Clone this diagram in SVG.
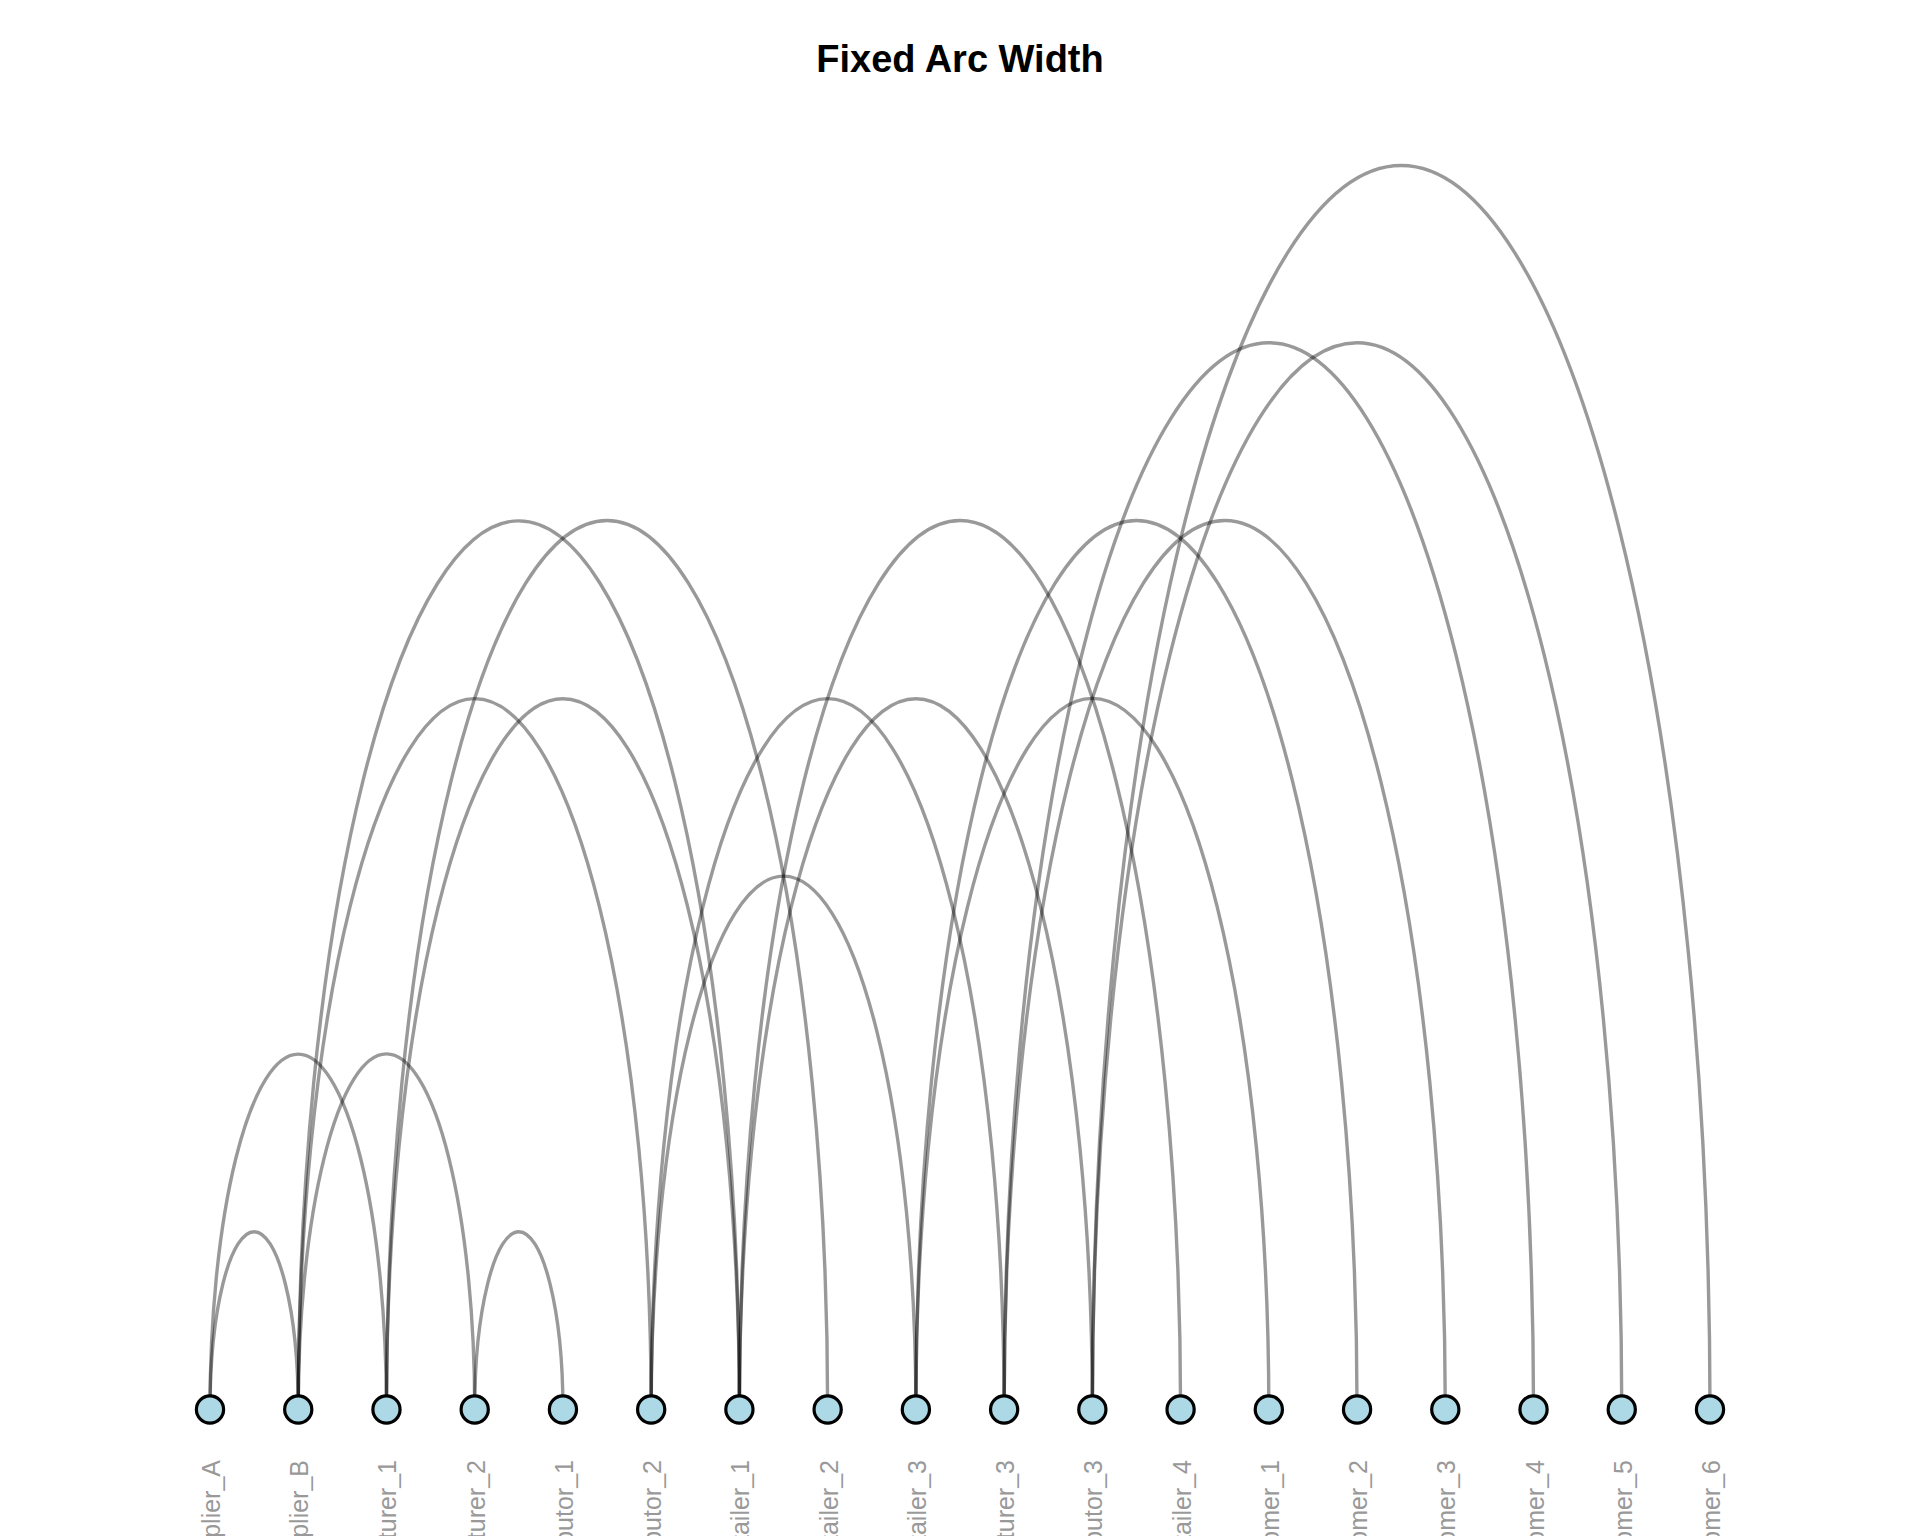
<svg xmlns="http://www.w3.org/2000/svg" width="1920" height="1536" viewBox="0 0 1920 1536">
<style>
.arc{fill:none;stroke:#000;stroke-opacity:0.4;stroke-width:3.4}
.node{fill:#ADD8E6;stroke:#000;stroke-width:3.2}
.lbl{font-family:"Liberation Sans",Arial,sans-serif;font-size:25px;fill:#999999;text-anchor:end}
.title{font-family:"Liberation Sans",Arial,sans-serif;font-size:38px;font-weight:bold;fill:#000;text-anchor:middle}
</style>
<rect width="1920" height="1536" fill="#fff"/>
<text class="title" x="960" y="71.5">Fixed Arc Width</text>
<g id="connectors">
<path class="arc" d="M210 1409.5 A10 40.3 0 0 1 298.24 1409.5"/>
<path class="arc" d="M210 1409.5 A10 40.3 0 0 1 386.47 1409.5"/>
<path class="arc" d="M298.24 1409.5 A10 40.3 0 0 1 474.71 1409.5"/>
<path class="arc" d="M474.71 1409.5 A10 40.3 0 0 1 562.94 1409.5"/>
<path class="arc" d="M298.24 1409.5 A10 40.3 0 0 1 651.18 1409.5"/>
<path class="arc" d="M386.47 1409.5 A10 40.3 0 0 1 739.41 1409.5"/>
<path class="arc" d="M298.24 1409.5 A10 40.3 0 0 1 739.41 1409.5"/>
<path class="arc" d="M386.47 1409.5 A10 40.3 0 0 1 827.65 1409.5"/>
<path class="arc" d="M651.18 1409.5 A10 40.3 0 0 1 915.88 1409.5"/>
<path class="arc" d="M651.18 1409.5 A10 40.3 0 0 1 1004.12 1409.5"/>
<path class="arc" d="M739.41 1409.5 A10 40.3 0 0 1 1092.35 1409.5"/>
<path class="arc" d="M739.41 1409.5 A10 40.3 0 0 1 1180.59 1409.5"/>
<path class="arc" d="M915.88 1409.5 A10 40.3 0 0 1 1268.82 1409.5"/>
<path class="arc" d="M915.88 1409.5 A10 40.3 0 0 1 1357.06 1409.5"/>
<path class="arc" d="M1004.12 1409.5 A10 40.3 0 0 1 1445.29 1409.5"/>
<path class="arc" d="M1004.12 1409.5 A10 40.3 0 0 1 1533.53 1409.5"/>
<path class="arc" d="M1092.35 1409.5 A10 40.3 0 0 1 1621.76 1409.5"/>
<path class="arc" d="M1092.35 1409.5 A10 40.3 0 0 1 1710 1409.5"/>
</g>
<g id="node-Supplier_A"><circle class="node" cx="210" cy="1409.5" r="13.6"/><text class="lbl" transform="translate(220,1460) rotate(-90)">Supplier_A</text></g>
<g id="node-Supplier_B"><circle class="node" cx="298.24" cy="1409.5" r="13.6"/><text class="lbl" transform="translate(308.24,1460) rotate(-90)">Supplier_B</text></g>
<g id="node-Manufacturer_1"><circle class="node" cx="386.47" cy="1409.5" r="13.6"/><text class="lbl" transform="translate(396.47,1460) rotate(-90)">Manufacturer_1</text></g>
<g id="node-Manufacturer_2"><circle class="node" cx="474.71" cy="1409.5" r="13.6"/><text class="lbl" transform="translate(484.71,1460) rotate(-90)">Manufacturer_2</text></g>
<g id="node-Distributor_1"><circle class="node" cx="562.94" cy="1409.5" r="13.6"/><text class="lbl" transform="translate(572.94,1460) rotate(-90)">Distributor_1</text></g>
<g id="node-Distributor_2"><circle class="node" cx="651.18" cy="1409.5" r="13.6"/><text class="lbl" transform="translate(661.18,1460) rotate(-90)">Distributor_2</text></g>
<g id="node-Retailer_1"><circle class="node" cx="739.41" cy="1409.5" r="13.6"/><text class="lbl" transform="translate(749.41,1460) rotate(-90)">Retailer_1</text></g>
<g id="node-Retailer_2"><circle class="node" cx="827.65" cy="1409.5" r="13.6"/><text class="lbl" transform="translate(837.65,1460) rotate(-90)">Retailer_2</text></g>
<g id="node-Retailer_3"><circle class="node" cx="915.88" cy="1409.5" r="13.6"/><text class="lbl" transform="translate(925.88,1460) rotate(-90)">Retailer_3</text></g>
<g id="node-Manufacturer_3"><circle class="node" cx="1004.12" cy="1409.5" r="13.6"/><text class="lbl" transform="translate(1014.12,1460) rotate(-90)">Manufacturer_3</text></g>
<g id="node-Distributor_3"><circle class="node" cx="1092.35" cy="1409.5" r="13.6"/><text class="lbl" transform="translate(1102.35,1460) rotate(-90)">Distributor_3</text></g>
<g id="node-Retailer_4"><circle class="node" cx="1180.59" cy="1409.5" r="13.6"/><text class="lbl" transform="translate(1190.59,1460) rotate(-90)">Retailer_4</text></g>
<g id="node-Customer_1"><circle class="node" cx="1268.82" cy="1409.5" r="13.6"/><text class="lbl" transform="translate(1278.82,1460) rotate(-90)">Customer_1</text></g>
<g id="node-Customer_2"><circle class="node" cx="1357.06" cy="1409.5" r="13.6"/><text class="lbl" transform="translate(1367.06,1460) rotate(-90)">Customer_2</text></g>
<g id="node-Customer_3"><circle class="node" cx="1445.29" cy="1409.5" r="13.6"/><text class="lbl" transform="translate(1455.29,1460) rotate(-90)">Customer_3</text></g>
<g id="node-Customer_4"><circle class="node" cx="1533.53" cy="1409.5" r="13.6"/><text class="lbl" transform="translate(1543.53,1460) rotate(-90)">Customer_4</text></g>
<g id="node-Customer_5"><circle class="node" cx="1621.76" cy="1409.5" r="13.6"/><text class="lbl" transform="translate(1631.76,1460) rotate(-90)">Customer_5</text></g>
<g id="node-Customer_6"><circle class="node" cx="1710" cy="1409.5" r="13.6"/><text class="lbl" transform="translate(1720,1460) rotate(-90)">Customer_6</text></g>
</svg>
